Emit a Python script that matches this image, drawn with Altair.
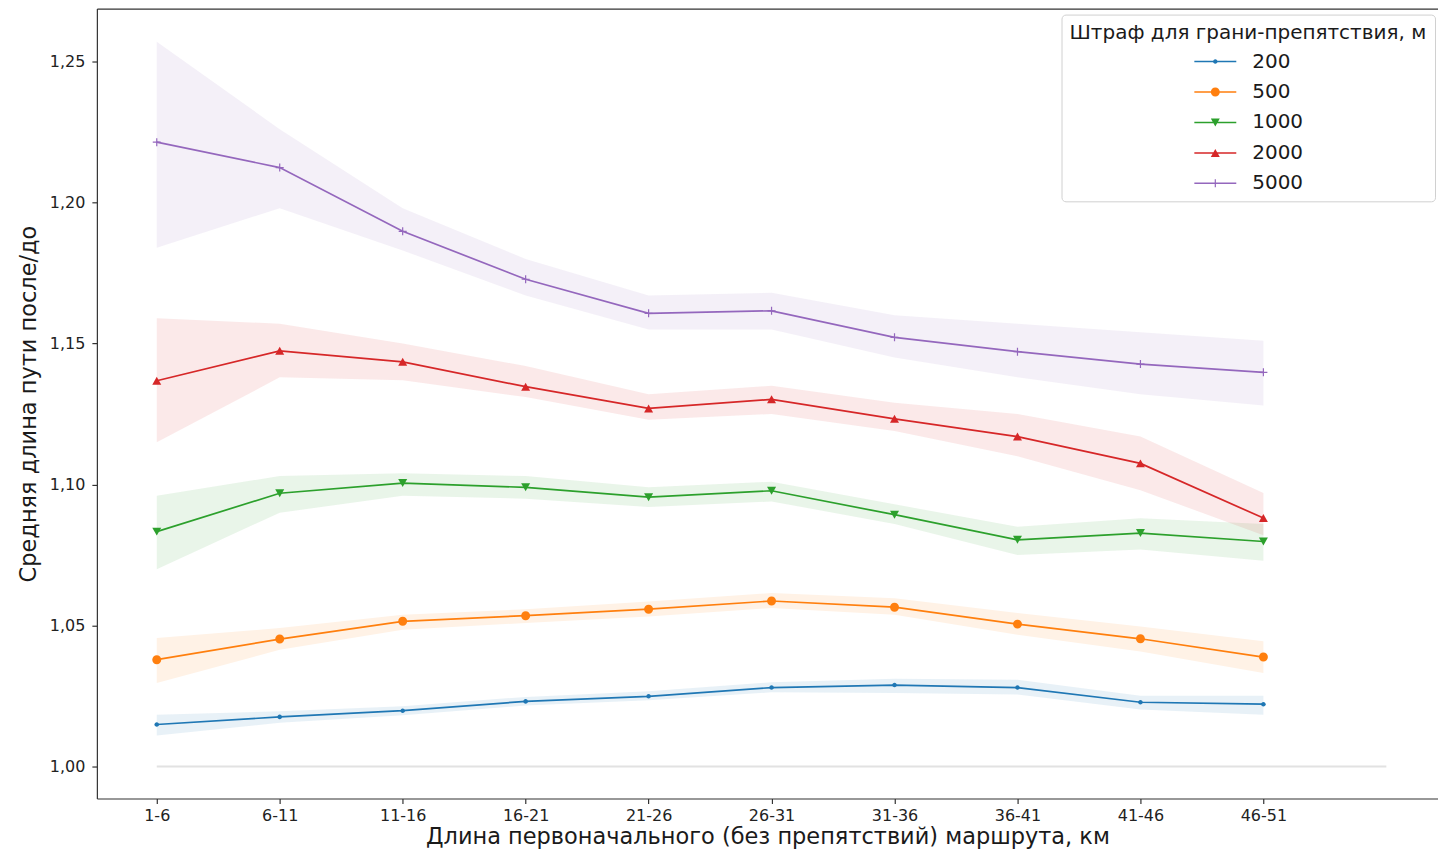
import altair as alt
import pandas as pd

categories = ["1-6", "6-11", "11-16", "16-21", "21-26", "26-31", "31-36", "36-41", "41-46", "46-51"]
series = ["200", "500", "1000", "2000", "5000"]
colors = ["#1f77b4", "#ff7f0e", "#2ca02c", "#d62728", "#9467bd"]

mean_200 = [1.0149, 1.0176, 1.0198, 1.0231, 1.0249, 1.0280, 1.0289, 1.0280, 1.0228, 1.0221]
lo_200 = [1.0110, 1.0155, 1.0182, 1.0216, 1.0235, 1.0263, 1.0261, 1.0255, 1.0202, 1.0184]
hi_200 = [1.0184, 1.0196, 1.0214, 1.0247, 1.0267, 1.0299, 1.0311, 1.0308, 1.0251, 1.0251]

mean_500 = [1.0379, 1.0452, 1.0515, 1.0535, 1.0558, 1.0587, 1.0565, 1.0505, 1.0453, 1.0388]
lo_500 = [1.0296, 1.0414, 1.0485, 1.0509, 1.0532, 1.0562, 1.0538, 1.0467, 1.0408, 1.0332]
hi_500 = [1.0456, 1.0491, 1.0538, 1.0558, 1.0585, 1.0615, 1.0597, 1.0544, 1.0497, 1.0444]

mean_1000 = [1.0833, 1.0969, 1.1005, 1.0990, 1.0955, 1.0978, 1.0893, 1.0804, 1.0828, 1.0798]
lo_1000 = [1.070, 1.090, 1.096, 1.095, 1.092, 1.094, 1.086, 1.075, 1.077, 1.073]
hi_1000 = [1.096, 1.103, 1.104, 1.103, 1.099, 1.101, 1.093, 1.085, 1.088, 1.086]

mean_2000 = [1.1368, 1.1474, 1.1435, 1.1347, 1.1270, 1.1302, 1.1233, 1.1170, 1.1075, 1.0881]
lo_2000 = [1.115, 1.138, 1.137, 1.131, 1.123, 1.125, 1.119, 1.110, 1.098, 1.082]
hi_2000 = [1.159, 1.157, 1.150, 1.142, 1.132, 1.135, 1.129, 1.125, 1.117, 1.097]

mean_5000 = [1.2214, 1.2124, 1.1898, 1.1728, 1.1607, 1.1616, 1.1522, 1.1471, 1.1427, 1.1398]
lo_5000 = [1.184, 1.198, 1.183, 1.167, 1.155, 1.155, 1.145, 1.138, 1.132, 1.128]
hi_5000 = [1.257, 1.226, 1.198, 1.180, 1.167, 1.168, 1.160, 1.157, 1.154, 1.151]

ref_y = [1.0]
ref_x0 = [0]
ref_x1 = [10]

y_ticks = [1.00, 1.05, 1.10, 1.15, 1.20, 1.25]

x_title = "Длина первоначального (без препятствий) маршрута, км"
y_title = "Средняя длина пути после/до"
legend_title = "Штраф для грани-препятствия, м"

means = {"200": mean_200, "500": mean_500, "1000": mean_1000, "2000": mean_2000, "5000": mean_5000}
los = {"200": lo_200, "500": lo_500, "1000": lo_1000, "2000": lo_2000, "5000": lo_5000}
his = {"200": hi_200, "500": hi_500, "1000": hi_1000, "2000": hi_2000, "5000": hi_5000}

rows = []
for s in series:
    for i, c in enumerate(categories):
        rows.append({"idx": i, "cat": c, "series": s,
                     "mean": means[s][i], "lo": los[s][i], "hi": his[s][i]})
df = pd.DataFrame(rows)
ref_df = pd.DataFrame({"x0": ref_x0, "x1": ref_x1, "y": ref_y})

FONT = "DejaVu Sans"

# marker shapes (size 100 -> 1 unit = 5 px)
marker_paths = [
    "M0.46,0A0.46,0.46,0,1,1,-0.46,0A0.46,0.46,0,1,1,0.46,0Z",
    "M0.9,0A0.9,0.9,0,1,1,-0.9,0A0.9,0.9,0,1,1,0.9,0Z",
    "M-0.9,-0.8L0.9,-0.8L0,0.8Z",
    "M0,-0.8L0.9,0.8L-0.9,0.8Z",
    "M-0.8,-0.12H0.8V0.12H-0.8ZM-0.12,-0.8H0.12V0.8H-0.12Z",
]
# legend shapes (size 576 -> 1 unit = 12 px): line + marker
LINE = "M-1.75,-0.0625H1.75V0.0625H-1.75Z"
legend_paths = [
    LINE + "M0.19,0A0.19,0.19,0,1,1,-0.19,0A0.19,0.19,0,1,1,0.19,0Z",
    LINE + "M0.375,0A0.375,0.375,0,1,1,-0.375,0A0.375,0.375,0,1,1,0.375,0Z",
    LINE + "M-0.375,-0.333L0.375,-0.333L0,0.333Z",
    LINE + "M0,-0.333L0.375,0.333L-0.375,0.333Z",
    LINE + "M-0.333,-0.05H0.333V0.05H-0.333ZM-0.05,-0.333H0.05V0.333H-0.05Z",
]

x_scale = alt.Scale(domain=[-0.487, 10.42], nice=False, zero=False)
y_scale = alt.Scale(domain=[0.98867, 1.26877], nice=False, zero=False)
color_scale = alt.Scale(domain=series, range=colors)

label_expr = "[" + ",".join("'" + c + "'" for c in categories) + "][datum.value]"

x_axis = alt.Axis(values=list(range(len(categories))), labelExpr=label_expr, grid=False,
                  tickSize=5, labelPadding=4, titlePadding=2)
y_axis = alt.Axis(values=y_ticks, labelExpr="replace(format(datum.value, '.2f'), '.', ',')",
                  grid=False, tickSize=5, labelPadding=7, titlePadding=9)
top_axis = alt.Axis(orient="top", labels=False, ticks=False, grid=False, title="")

X = alt.X("idx:Q", scale=x_scale, title=x_title, axis=None)
Ymean = alt.Y("mean:Q", scale=y_scale, title=y_title, axis=y_axis)

bands = alt.Chart(df).mark_area(opacity=0.1).encode(
    x=alt.X("idx:Q", scale=x_scale, title=x_title, axis=x_axis),
    y=alt.Y("lo:Q", scale=y_scale, title=y_title, axis=y_axis),
    y2="hi:Q",
    color=alt.Color("series:N", scale=color_scale, legend=None),
)

ref = alt.Chart(ref_df).mark_rule(color="#e2e2e2", strokeWidth=2).encode(
    x=alt.X("x0:Q", scale=x_scale, title="", axis=top_axis),
    x2="x1:Q",
    y=alt.Y("y:Q", scale=y_scale, title=y_title, axis=y_axis),
)

lines = alt.Chart(df).mark_line(strokeWidth=1.7).encode(
    x=X, y=Ymean,
    color=alt.Color("series:N", scale=color_scale, legend=None),
    order="idx:Q",
)

markers = alt.Chart(df).mark_point(filled=True, size=100, opacity=1).encode(
    x=X, y=Ymean,
    color=alt.Color("series:N", scale=color_scale, legend=None),
    shape=alt.Shape("series:N", scale=alt.Scale(domain=series, range=marker_paths), legend=None),
)

leg = alt.Legend(
    title=legend_title, orient="none", legendX=966, legendY=6,
    titleFont=FONT, titleFontSize=20, titleFontWeight="normal", titleColor="#1a1a1a",
    titleLimit=600, titlePadding=7,
    labelFont=FONT, labelFontSize=20, labelColor="#1a1a1a",
    symbolSize=576, symbolStrokeWidth=0, symbolOpacity=1,
    symbolOffset=134, labelOffset=25, rowPadding=8.5,
    padding=8, strokeColor="#d0d0d0", fillColor="#ffffff", cornerRadius=4,
)

legend_layer = alt.Chart(df).mark_point(filled=True, size=100, opacity=0).encode(
    x=X, y=Ymean,
    color=alt.Color("series:N", scale=color_scale, legend=leg),
    shape=alt.Shape("series:N", scale=alt.Scale(domain=series, range=legend_paths), legend=leg),
)

chart = alt.layer(bands, ref, lines, markers, legend_layer).resolve_scale(
    color="independent", shape="independent"
).resolve_axis(x="independent").properties(
    width=1343, height=791,
    autosize=alt.AutoSizeParams(type="none"),
    padding={"left": 89, "top": 0, "right": 0, "bottom": 51},
    background="#ffffff",
).configure_view(strokeWidth=0).configure_axis(
    domainColor="#333333", domainWidth=1.2, tickColor="#333333", tickWidth=1.2,
    labelFont=FONT, labelFontSize=16, labelColor="#222222",
    titleFont=FONT, titleFontSize=22.5, titleFontWeight="normal", titleColor="#1a1a1a",
)

chart.save("out.html", embed_options={"renderer": "svg", "actions": False})
